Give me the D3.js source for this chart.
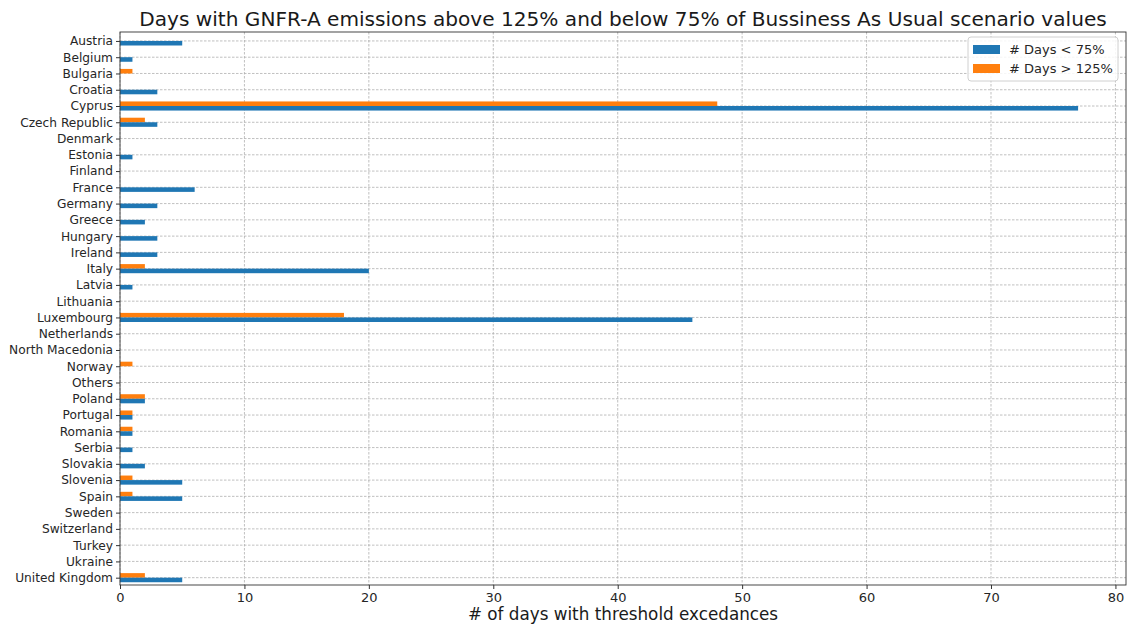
<!DOCTYPE html>
<html>
<head>
<meta charset="utf-8">
<script src="https://cdn.jsdelivr.net/npm/d3@7"></script>
<style>
  body { margin: 0; background: #fff; }
  svg { font-family: "DejaVu Sans", sans-serif; }
</style>
</head>
<body>
<svg id="chart" width="1127" height="628"></svg>
<script>
const countries = ["Austria","Belgium","Bulgaria","Croatia","Cyprus","Czech Republic","Denmark","Estonia","Finland","France","Germany","Greece","Hungary","Ireland","Italy","Latvia","Lithuania","Luxembourg","Netherlands","North Macedonia","Norway","Others","Poland","Portugal","Romania","Serbia","Slovakia","Slovenia","Spain","Sweden","Switzerland","Turkey","Ukraine","United Kingdom"];
const daysBelow75 = [5,1,0,3,77,3,0,1,0,6,3,2,3,3,20,1,0,46,0,0,0,0,2,1,1,1,2,5,5,0,0,0,0,5];
const daysAbove125 = [0,0,1,0,48,2,0,0,0,0,0,0,0,0,2,0,0,18,0,0,1,0,2,1,1,0,0,1,1,0,0,0,0,2];
const xTicks = [0,10,20,30,40,50,60,70,80];
const seriesNames = ["# Days < 75%", "# Days > 125%"];
const colors = ["#1f77b4", "#ff7f0e"];

const svg = d3.select("#chart");
const plotLeft = 120, plotRight = 1126, plotTop = 32, plotBottom = 585;
const barH = 0.28;

const x = d3.scaleLinear().domain([0, 80.85]).range([plotLeft, plotRight]);
const y = d3.scaleLinear().domain([-0.55, countries.length - 0.55]).range([plotTop, plotBottom]);

// grid lines
const grid = svg.append("g").attr("stroke", "#b0b0b0").attr("stroke-width", 0.8).attr("stroke-dasharray", "2.5,1.5");
grid.selectAll("line.v").data(xTicks).join("line").attr("class", "v")
  .attr("x1", d => x(d)).attr("x2", d => x(d)).attr("y1", plotTop).attr("y2", plotBottom);
grid.selectAll("line.h").data(countries).join("line").attr("class", "h")
  .attr("x1", plotLeft).attr("x2", plotRight).attr("y1", (d, i) => y(i)).attr("y2", (d, i) => y(i));

// bars: one series above the category line, the other below it
svg.append("g").selectAll("rect").data(daysAbove125).join("rect")
  .attr("x", x(0)).attr("y", (d, i) => y(i - barH))
  .attr("width", d => x(d) - x(0)).attr("height", y(barH) - y(0))
  .attr("fill", colors[1]);
svg.append("g").selectAll("rect").data(daysBelow75).join("rect")
  .attr("x", x(0)).attr("y", (d, i) => y(i))
  .attr("width", d => x(d) - x(0)).attr("height", y(barH) - y(0))
  .attr("fill", colors[0]);

// frame
svg.append("rect").attr("x", plotLeft).attr("y", plotTop).attr("width", plotRight - plotLeft).attr("height", plotBottom - plotTop)
  .attr("fill", "none").attr("stroke", "#333").attr("stroke-width", 0.9);

// x axis
const xAxis = svg.append("g").attr("transform", `translate(0,${plotBottom})`)
  .call(d3.axisBottom(x).tickValues(xTicks).tickSize(4).tickPadding(4));
xAxis.select(".domain").remove();
xAxis.selectAll("text").attr("font-size", 13).attr("fill", "#262626").attr("font-family", "DejaVu Sans");
xAxis.selectAll("line").attr("stroke", "#333");

// y axis
const yAxis = svg.append("g").attr("transform", `translate(${plotLeft},0)`)
  .call(d3.axisLeft(y).tickValues(d3.range(countries.length)).tickFormat(i => countries[i]).tickSize(4).tickPadding(3));
yAxis.select(".domain").remove();
yAxis.selectAll("text").attr("font-size", 12.2).attr("fill", "#262626").attr("font-family", "DejaVu Sans");
yAxis.selectAll("line").attr("stroke", "#333");

// title and axis label
svg.append("text").attr("x", (plotLeft + plotRight) / 2).attr("y", 26).attr("text-anchor", "middle")
  .attr("font-size", 20.1).attr("fill", "#1a1a1a")
  .text("Days with GNFR-A emissions above 125% and below 75% of Bussiness As Usual scenario values");
svg.append("text").attr("x", (plotLeft + plotRight) / 2).attr("y", 620).attr("text-anchor", "middle")
  .attr("font-size", 16.8).attr("fill", "#1a1a1a")
  .text("# of days with threshold excedances");

// legend
const lg = svg.append("g").attr("transform", "translate(968,37)");
lg.append("rect").attr("width", 150).attr("height", 44).attr("rx", 3)
  .attr("fill", "#fff").attr("fill-opacity", 0.85).attr("stroke", "#d0d0d0");
seriesNames.forEach((name, i) => {
  lg.append("rect").attr("x", 5).attr("y", 8 + i * 19).attr("width", 27).attr("height", 9).attr("fill", colors[i]);
  lg.append("text").attr("x", 41).attr("y", 17 + i * 19).attr("font-size", 13).attr("fill", "#262626").text(name);
});
</script>
</body>
</html>
